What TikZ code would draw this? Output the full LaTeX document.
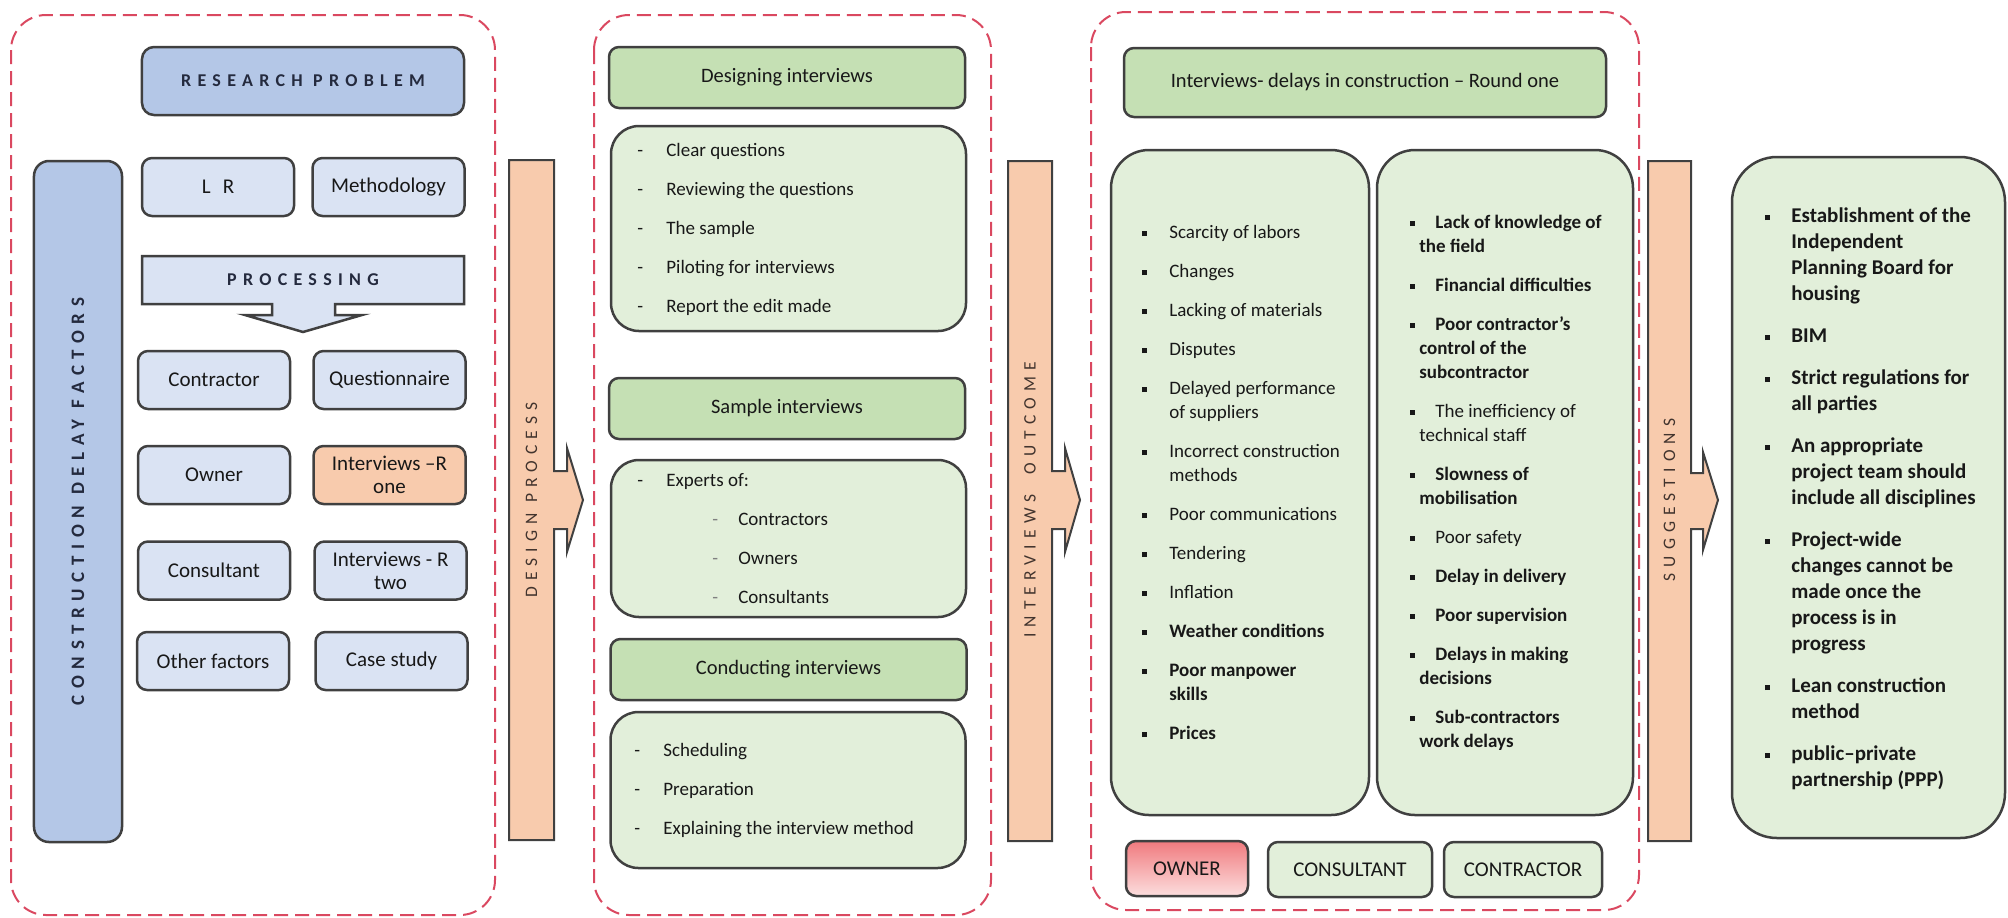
\documentclass[tikz,border=0pt]{standalone}
\usepackage{fontspec}
\setmainfont{Carlito}
\newfontfamily\spacedfont[LetterSpace=35]{Carlito}
\usetikzlibrary{positioning}
\usepackage{xcolor}
\definecolor{FrameRed}{RGB}{218,72,96}
\definecolor{BoxLine}{RGB}{64,64,64}
\definecolor{SoftBlue}{RGB}{218,227,243}
\definecolor{DeepBlue}{RGB}{180,199,231}
\definecolor{SoftOrange}{RGB}{248,203,173}
\definecolor{HeadGreen}{RGB}{197,224,180}
\definecolor{SoftGreen}{RGB}{226,239,218}
\definecolor{OwnerRed}{RGB}{240,122,126}
\definecolor{OwnerPink}{RGB}{252,222,222}
\definecolor{TextGray}{RGB}{24,24,24}
\definecolor{NavyText}{RGB}{36,42,62}
\definecolor{BrownText}{RGB}{66,52,46}
\tikzset{
  panel/.style={draw=FrameRed, line width=0.4mm, dash pattern=on 2.8mm off 1.4mm,
    rounded corners=7mm},
  topicbox/.style={draw=BoxLine, fill=DeepBlue, line width=0.5mm, rounded corners=2.4mm,
    minimum width=64.4mm, minimum height=13.6mm, text=NavyText,
    font=\spacedfont\bfseries\fontsize{3.6mm}{4.4mm}\selectfont},
  factor/.style={draw=BoxLine, fill=SoftBlue, line width=0.5mm, rounded corners=2mm,
    minimum width=30.4mm, minimum height=11.6mm, align=center, text=TextGray,
    font=\fontsize{4.2mm}{4.6mm}\selectfont},
  procshape/.style={draw=BoxLine, fill=SoftBlue, line width=0.5mm},
  proclabel/.style={text=NavyText, font=\spacedfont\bfseries\fontsize{3.6mm}{4.4mm}\selectfont},
  delaybar/.style={draw=BoxLine, fill=DeepBlue, line width=0.5mm, rounded corners=3mm,
    rotate=90, minimum width=136.2mm, minimum height=17.6mm, text=NavyText,
    font=\spacedfont\bfseries\fontsize{3.8mm}{4.6mm}\selectfont},
  flowbar/.style={draw=BoxLine, fill=SoftOrange, line width=0.4mm},
  barlabel/.style={rotate=90, text=BrownText,
    font=\spacedfont\fontsize{3.5mm}{4mm}\selectfont},
  greenhead/.style={draw=BoxLine, fill=HeadGreen, line width=0.5mm, rounded corners=2mm,
    minimum width=71.2mm, minimum height=12.2mm, text=TextGray,
    font=\fontsize{4.1mm}{4.8mm}\selectfont},
  listbox/.style={draw=BoxLine, fill=SoftGreen, line width=0.5mm, rounded corners=5.6mm,
    minimum width=71mm},
  tallbox/.style={draw=BoxLine, fill=SoftGreen, line width=0.5mm, rounded corners=7.6mm,
    minimum height=133mm},
  listtext/.style={anchor=west, align=left, inner sep=0pt, text=TextGray,
    font=\fontsize{3.8mm}{4.8mm}\selectfont},
  party/.style={draw=BoxLine, fill=SoftGreen, line width=0.5mm, rounded corners=2mm,
    minimum height=11mm, text=TextGray, font=\fontsize{4.2mm}{5mm}\selectfont}
}
\newcommand{\sqbul}[1][5.5mm]{\makebox[#1][l]{\rule[0.5mm]{1mm}{1mm}}}
\newcommand{\dashbul}{\makebox[5.8mm][l]{-}}

\begin{document}
\begin{tikzpicture}[x=0.2mm, y=-0.2mm]
\useasboundingbox (0,0) rectangle (2008,917);

% first panel: research problem and factors
\draw[panel] (11,15) rectangle (495,915);
\node[topicbox] (problem) at (303,81) {RESEARCH PROBLEM};
\node[delaybar] (delays) at (78,501.5) {CONSTRUCTION DELAY FACTORS};
\node[factor] (lr) at (218,187) {\spacedfont L R};
\node[factor, right=3.2mm of lr] (method) {Methodology};
\draw[procshape] (142,256) -- (464,256) -- (464,304) -- (335,304) -- (335,315)
  -- (362,315) -- (303,332) -- (245,315) -- (272,315) -- (272,304) -- (142,304) -- cycle;
\node[proclabel] (processing) at (303,280) {PROCESSING};
\node[factor] (contractor) at (214,380) {Contractor};
\node[factor, right=4.2mm of contractor] (questionnaire) {Questionnaire};
\node[factor] (owner) at (214,475) {Owner};
\node[factor, right=4.2mm of owner, fill=SoftOrange] (roundone) {Interviews –R\\one};
\node[factor] (consultant) at (214,570.5) {Consultant};
\node[factor, right=4.4mm of consultant] (roundtwo) {Interviews - R\\two};
\node[factor] (other) at (213,661) {Other factors};
\node[factor, right=4.8mm of other] (casestudy) {Case study};

% design process arrow
\draw[flowbar] (509,160) -- (554,160) -- (554,471) -- (567,471) -- (567,448) -- (583,500)
  -- (567,552) -- (567,529) -- (554,529) -- (554,840) -- (509,840) -- cycle;
\node[barlabel] (designlbl) at (531.5,500) {DESIGN PROCESS};

% second panel: interviews
\draw[panel] (594,15) rectangle (991,915);
\node[greenhead] (designhead) at (787,77.5) {Designing interviews};
\node[listbox, minimum height=41mm] (designbox) at (788.5,228.5) {};
\node[listtext] (designitems) at (637,229) {\dashbul Clear questions\\[3mm]
  \dashbul Reviewing the questions\\[3mm]
  \dashbul The sample\\[3mm]
  \dashbul Piloting for interviews\\[3mm]
  \dashbul Report the edit made};
\node[greenhead] (samplehead) at (787,408.5) {Sample interviews};
\node[listbox, minimum height=31.4mm] (expertbox) at (788.5,538.5) {};
\node[listtext] (expertitems) at (637,539) {\dashbul Experts of:\\[3mm]
  \hspace*{15mm}\makebox[5.2mm][l]{\textcolor{gray}{-}}Contractors\\[3mm]
  \hspace*{15mm}\makebox[5.2mm][l]{\textcolor{gray}{-}}Owners\\[3mm]
  \hspace*{15mm}\makebox[5.2mm][l]{\textcolor{gray}{-}}Consultants};
\node[greenhead] (conducthead) at (788.5,669.5) {Conducting interviews};
\node[listbox, minimum height=31.2mm] (conductbox) at (788,790) {};
\node[listtext] (conductitems) at (634,791) {\dashbul Scheduling\\[3mm]
  \dashbul Preparation\\[3mm]
  \dashbul Explaining the interview method};

% interviews outcome arrow
\draw[flowbar] (1008,161) -- (1052,161) -- (1052,471) -- (1065,471) -- (1065,448) -- (1080,500)
  -- (1065,552) -- (1065,529) -- (1052,529) -- (1052,841) -- (1008,841) -- cycle;
\node[barlabel] (outcomelbl) at (1030,500) {INTERVIEWS\ \ OUTCOME};

% third panel: round one results
\draw[panel] (1091,12) rectangle (1639,910);
\node[greenhead, minimum width=96.4mm, minimum height=13.8mm] (roundhead) at (1365,82.5)
  {Interviews- delays in construction – Round one};
\node[tallbox, minimum width=51.6mm] (ownlist) at (1240,482.5) {};
\node[listtext] (ownitems) at (1141.5,482.5) {\sqbul Scarcity of labors\\[3mm]
  \sqbul Changes\\[3mm]
  \sqbul Lacking of materials\\[3mm]
  \sqbul Disputes\\[3mm]
  \sqbul Delayed performance\\\hspace*{5.5mm}of suppliers\\[3mm]
  \sqbul Incorrect construction\\\hspace*{5.5mm}methods\\[3mm]
  \sqbul Poor communications\\[3mm]
  \sqbul Tendering\\[3mm]
  \sqbul Inflation\\[3mm]
  \sqbul \textbf{Weather conditions}\\[3mm]
  \sqbul \textbf{Poor manpower}\\\hspace*{5.5mm}\textbf{skills}\\[3mm]
  \sqbul \textbf{Prices}};
\node[tallbox, minimum width=51.2mm] (conlist) at (1505,482.5) {};
\node[listtext, font=\fontsize{3.8mm}{4.8mm}\selectfont\bfseries] (conitems) at (1410,482.5)
  {\sqbul[5mm]Lack of knowledge of\\\hspace*{1.8mm}the field\\[3mm]
  \sqbul[5mm]Financial difficulties\\[3mm]
  \sqbul[5mm]Poor contractor’s\\\hspace*{1.8mm}control of the\\\hspace*{1.8mm}subcontractor\\[3mm]
  \sqbul[5mm]{\mdseries The inefficiency of}\\\hspace*{1.8mm}{\mdseries technical staff}\\[3mm]
  \sqbul[5mm]Slowness of\\\hspace*{1.8mm}mobilisation\\[3mm]
  \sqbul[5mm]{\mdseries Poor safety}\\[3mm]
  \sqbul[5mm]Delay in delivery\\[3mm]
  \sqbul[5mm]Poor supervision\\[3mm]
  \sqbul[5mm]Delays in making\\\hspace*{1.8mm}decisions\\[3mm]
  \sqbul[5mm]Sub-contractors\\\hspace*{1.8mm}work delays};
\node[party, minimum width=24.4mm, top color=OwnerRed, bottom color=OwnerPink] (ownerbox)
  at (1187,868.5) {OWNER};
\node[party, minimum width=32.8mm] (consultbox) at (1350,869.5) {CONSULTANT};
\node[party, minimum width=31.6mm] (contractbox) at (1523,869.5) {CONTRACTOR};

% suggestions arrow and box
\draw[flowbar] (1648,161) -- (1691,161) -- (1691,473) -- (1703,473) -- (1703,452) -- (1718,500)
  -- (1703,550) -- (1703,529) -- (1691,529) -- (1691,841) -- (1648,841) -- cycle;
\node[barlabel] (suggestlbl) at (1669.5,500) {SUGGESTIONS};
\node[tallbox, minimum width=54.6mm, minimum height=136.2mm, rounded corners=9mm] (suggestbox)
  at (1868.5,497.5) {};
\node[listtext, font=\fontsize{4.2mm}{5.2mm}\selectfont\bfseries] (suggestitems) at (1765,499)
  {\sqbul[5.2mm]Establishment of the\\\hspace*{5.2mm}Independent\\\hspace*{5.2mm}Planning Board for\\\hspace*{5.2mm}housing\\[3.2mm]
  \sqbul[5.2mm]BIM\\[3.2mm]
  \sqbul[5.2mm]Strict regulations for\\\hspace*{5.2mm}all parties\\[3.2mm]
  \sqbul[5.2mm]An appropriate\\\hspace*{5.2mm}project team should\\\hspace*{5.2mm}include all disciplines\\[3.2mm]
  \sqbul[5.2mm]Project-wide\\\hspace*{5.2mm}changes cannot be\\\hspace*{5.2mm}made once the\\\hspace*{5.2mm}process is in\\\hspace*{5.2mm}progress\\[3.2mm]
  \sqbul[5.2mm]Lean construction\\\hspace*{5.2mm}method\\[3.2mm]
  \sqbul[5.2mm]public–private\\\hspace*{5.2mm}partnership (PPP)};
\end{tikzpicture}
\end{document}
